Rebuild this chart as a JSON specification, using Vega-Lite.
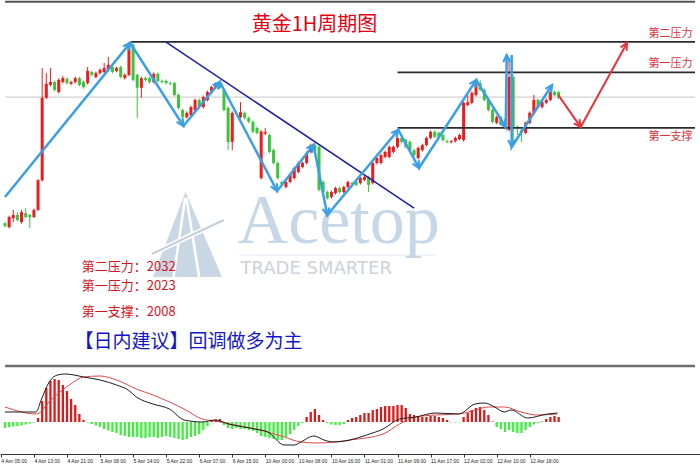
{
"$schema": "https://vega.github.io/schema/vega-lite/v6.json",
"padding": 0,
"background": "white",
"spacing": 0,
"config": {"view": {"stroke": null}, "axis": {"grid": false}},
"datasets": {
"candles": [
{"i":0,"o":1981.4,"h":1981.8,"l":1980.2,"c":1980.6},
{"i":1,"o":1980.3,"h":1983.5,"l":1980.0,"c":1983.1},
{"i":2,"o":1982.8,"h":1985.1,"l":1981.7,"c":1983.7},
{"i":3,"o":1983.7,"h":1984.5,"l":1981.9,"c":1982.3},
{"i":4,"o":1981.7,"h":1985.1,"l":1981.3,"c":1984.5},
{"i":5,"o":1984.2,"h":1985.6,"l":1982.8,"c":1983.1},
{"i":6,"o":1983.7,"h":1984.0,"l":1980.0,"c":1983.1},
{"i":7,"o":1983.1,"h":1985.5,"l":1982.8,"c":1985.1},
{"i":8,"o":1985.1,"h":1993.7,"l":1984.8,"c":1993.4},
{"i":9,"o":1993.4,"h":2024.7,"l":1993.0,"c":2016.4},
{"i":10,"o":2016.4,"h":2023.3,"l":2016.0,"c":2020.3},
{"i":11,"o":2020.0,"h":2024.7,"l":2019.6,"c":2020.8},
{"i":12,"o":2020.8,"h":2021.2,"l":2018.2,"c":2018.6},
{"i":13,"o":2018.0,"h":2021.8,"l":2017.6,"c":2021.4},
{"i":14,"o":2020.8,"h":2022.5,"l":2020.4,"c":2021.9},
{"i":15,"o":2021.7,"h":2022.1,"l":2020.1,"c":2020.5},
{"i":16,"o":2020.3,"h":2021.2,"l":2019.9,"c":2020.8},
{"i":17,"o":2020.8,"h":2022.3,"l":2020.4,"c":2021.9},
{"i":18,"o":2021.9,"h":2022.3,"l":2019.6,"c":2020.0},
{"i":19,"o":2020.8,"h":2021.2,"l":2019.0,"c":2019.4},
{"i":20,"o":2020.5,"h":2025.0,"l":2020.1,"c":2023.9},
{"i":21,"o":2023.6,"h":2024.0,"l":2022.4,"c":2022.8},
{"i":22,"o":2022.2,"h":2023.7,"l":2021.8,"c":2023.3},
{"i":23,"o":2023.3,"h":2024.6,"l":2022.9,"c":2024.2},
{"i":24,"o":2023.6,"h":2026.1,"l":2023.2,"c":2024.7},
{"i":25,"o":2024.2,"h":2027.8,"l":2023.8,"c":2025.6},
{"i":26,"o":2025.0,"h":2025.4,"l":2023.2,"c":2023.6},
{"i":27,"o":2023.9,"h":2025.1,"l":2023.5,"c":2024.7},
{"i":28,"o":2025.0,"h":2025.4,"l":2021.8,"c":2022.2},
{"i":29,"o":2021.9,"h":2023.2,"l":2021.5,"c":2022.8},
{"i":30,"o":2022.8,"h":2032.0,"l":2022.4,"c":2031.2},
{"i":31,"o":2031.2,"h":2031.6,"l":2021.0,"c":2021.4},
{"i":32,"o":2022.8,"h":2023.2,"l":2010.8,"c":2019.2},
{"i":33,"o":2019.2,"h":2022.3,"l":2016.4,"c":2021.9},
{"i":34,"o":2021.9,"h":2022.3,"l":2021.0,"c":2021.4},
{"i":35,"o":2021.9,"h":2022.3,"l":2020.4,"c":2020.8},
{"i":36,"o":2020.8,"h":2023.5,"l":2020.4,"c":2023.1},
{"i":37,"o":2023.1,"h":2023.5,"l":2020.7,"c":2021.1},
{"i":38,"o":2021.1,"h":2021.5,"l":2020.4,"c":2020.8},
{"i":39,"o":2021.1,"h":2021.5,"l":2020.1,"c":2020.5},
{"i":40,"o":2020.5,"h":2020.9,"l":2019.9,"c":2020.3},
{"i":41,"o":2020.5,"h":2020.9,"l":2016.8,"c":2017.2},
{"i":42,"o":2017.2,"h":2017.6,"l":2013.2,"c":2013.6},
{"i":43,"o":2013.0,"h":2013.4,"l":2010.6,"c":2011.0},
{"i":44,"o":2011.0,"h":2012.6,"l":2010.6,"c":2012.2},
{"i":45,"o":2011.6,"h":2014.2,"l":2011.2,"c":2013.8},
{"i":46,"o":2013.0,"h":2016.2,"l":2012.6,"c":2015.8},
{"i":47,"o":2015.8,"h":2016.2,"l":2013.4,"c":2013.8},
{"i":48,"o":2013.8,"h":2017.0,"l":2013.4,"c":2016.6},
{"i":49,"o":2015.8,"h":2018.4,"l":2015.4,"c":2018.0},
{"i":50,"o":2017.8,"h":2019.8,"l":2017.4,"c":2019.4},
{"i":51,"o":2019.2,"h":2020.7,"l":2018.8,"c":2020.3},
{"i":52,"o":2020.5,"h":2021.0,"l":2018.8,"c":2019.2},
{"i":53,"o":2018.6,"h":2019.0,"l":2012.6,"c":2013.0},
{"i":54,"o":2013.6,"h":2014.0,"l":2001.8,"c":2004.1},
{"i":55,"o":2004.1,"h":2012.6,"l":2001.8,"c":2012.2},
{"i":56,"o":2012.2,"h":2012.6,"l":2011.5,"c":2011.9},
{"i":57,"o":2011.0,"h":2015.2,"l":2010.6,"c":2012.4},
{"i":58,"o":2012.2,"h":2012.6,"l":2010.4,"c":2010.8},
{"i":59,"o":2010.8,"h":2011.2,"l":2009.3,"c":2009.7},
{"i":60,"o":2009.7,"h":2010.1,"l":2006.5,"c":2006.9},
{"i":61,"o":2008.0,"h":2008.4,"l":2006.2,"c":2006.6},
{"i":62,"o":1994.0,"h":2007.4,"l":1993.6,"c":2007.0},
{"i":63,"o":2006.4,"h":2008.0,"l":2006.0,"c":2006.8},
{"i":64,"o":2006.0,"h":2006.4,"l":2000.9,"c":2001.3},
{"i":65,"o":2001.8,"h":2002.2,"l":1997.8,"c":1998.2},
{"i":66,"o":1998.2,"h":1998.6,"l":1993.6,"c":1994.0},
{"i":67,"o":1992.9,"h":1993.3,"l":1991.9,"c":1992.3},
{"i":68,"o":1991.5,"h":1993.3,"l":1991.1,"c":1992.9},
{"i":69,"o":1992.9,"h":1995.3,"l":1992.5,"c":1994.9},
{"i":70,"o":1994.0,"h":1997.2,"l":1993.6,"c":1996.8},
{"i":71,"o":1995.7,"h":1998.6,"l":1995.3,"c":1998.2},
{"i":72,"o":1997.1,"h":1998.6,"l":1996.7,"c":1998.2},
{"i":73,"o":1998.2,"h":2001.4,"l":1997.8,"c":2001.0},
{"i":74,"o":2001.3,"h":2003.6,"l":2000.9,"c":2003.2},
{"i":75,"o":2003.2,"h":2003.6,"l":2001.4,"c":2001.8},
{"i":76,"o":2002.7,"h":2003.1,"l":1990.3,"c":1990.7},
{"i":77,"o":1992.9,"h":1993.3,"l":1989.7,"c":1990.1},
{"i":78,"o":1990.1,"h":1990.5,"l":1988.0,"c":1988.4},
{"i":79,"o":1988.7,"h":1990.5,"l":1988.3,"c":1990.1},
{"i":80,"o":1989.8,"h":1991.6,"l":1989.4,"c":1991.2},
{"i":81,"o":1991.2,"h":1991.6,"l":1989.7,"c":1990.1},
{"i":82,"o":1990.1,"h":1991.9,"l":1989.7,"c":1991.5},
{"i":83,"o":1991.5,"h":1993.3,"l":1991.1,"c":1992.9},
{"i":84,"o":1992.6,"h":1993.0,"l":1991.9,"c":1992.3},
{"i":85,"o":1992.9,"h":1993.3,"l":1991.7,"c":1992.1},
{"i":86,"o":1992.6,"h":1994.4,"l":1992.2,"c":1994.0},
{"i":87,"o":1993.5,"h":1994.7,"l":1993.1,"c":1994.3},
{"i":88,"o":1994.3,"h":1994.7,"l":1990.1,"c":1992.1},
{"i":89,"o":1992.6,"h":1998.6,"l":1992.2,"c":1998.2},
{"i":90,"o":1998.2,"h":2000.0,"l":1997.8,"c":1999.6},
{"i":91,"o":1998.2,"h":2000.8,"l":1997.8,"c":2000.4},
{"i":92,"o":1999.9,"h":2001.7,"l":1999.5,"c":2001.3},
{"i":93,"o":1999.9,"h":2003.1,"l":1999.5,"c":2002.7},
{"i":94,"o":2001.3,"h":2003.1,"l":2000.9,"c":2002.7},
{"i":95,"o":2002.7,"h":2005.6,"l":2002.3,"c":2005.2},
{"i":96,"o":2005.2,"h":2005.6,"l":2003.7,"c":2004.1},
{"i":97,"o":2004.6,"h":2005.0,"l":2002.3,"c":2002.7},
{"i":98,"o":2004.1,"h":2004.5,"l":2001.4,"c":2001.8},
{"i":99,"o":2001.8,"h":2002.2,"l":2000.0,"c":2000.4},
{"i":100,"o":1999.6,"h":2002.8,"l":1999.2,"c":2002.4},
{"i":101,"o":2001.8,"h":2003.6,"l":2001.4,"c":2003.2},
{"i":102,"o":2003.2,"h":2005.6,"l":2002.8,"c":2005.2},
{"i":103,"o":2005.2,"h":2007.3,"l":2004.8,"c":2006.9},
{"i":104,"o":2006.9,"h":2007.3,"l":2005.1,"c":2005.5},
{"i":105,"o":2006.6,"h":2007.0,"l":2005.1,"c":2005.5},
{"i":106,"o":2006.0,"h":2006.4,"l":2004.2,"c":2004.6},
{"i":107,"o":2004.3,"h":2004.7,"l":2003.7,"c":2004.0},
{"i":108,"o":2004.0,"h":2004.7,"l":2003.7,"c":2004.3},
{"i":109,"o":2004.3,"h":2005.6,"l":2003.9,"c":2005.2},
{"i":110,"o":2004.9,"h":2006.4,"l":2004.5,"c":2006.0},
{"i":111,"o":2004.6,"h":2015.4,"l":2004.2,"c":2015.0},
{"i":112,"o":2014.4,"h":2017.2,"l":2014.0,"c":2015.2},
{"i":113,"o":2015.0,"h":2018.2,"l":2014.6,"c":2017.8},
{"i":114,"o":2017.2,"h":2020.7,"l":2016.8,"c":2020.3},
{"i":115,"o":2020.5,"h":2021.3,"l":2018.2,"c":2018.6},
{"i":116,"o":2018.6,"h":2019.0,"l":2015.4,"c":2015.8},
{"i":117,"o":2015.8,"h":2016.2,"l":2012.6,"c":2013.0},
{"i":118,"o":2013.0,"h":2013.4,"l":2009.3,"c":2009.7},
{"i":119,"o":2009.4,"h":2011.4,"l":2009.0,"c":2011.0},
{"i":120,"o":2011.0,"h":2011.4,"l":2009.0,"c":2009.4},
{"i":121,"o":2009.4,"h":2009.8,"l":2007.9,"c":2008.3},
{"i":122,"o":2007.4,"h":2027.5,"l":2007.0,"c":2022.2},
{"i":123,"o":2022.2,"h":2022.6,"l":2003.2,"c":2008.3},
{"i":124,"o":2008.3,"h":2008.7,"l":2006.0,"c":2008.0},
{"i":125,"o":2007.4,"h":2007.8,"l":2004.0,"c":2006.6},
{"i":126,"o":2006.6,"h":2009.8,"l":2006.2,"c":2009.4},
{"i":127,"o":2009.4,"h":2012.6,"l":2009.0,"c":2012.2},
{"i":128,"o":2012.2,"h":2017.2,"l":2011.8,"c":2015.8},
{"i":129,"o":2015.8,"h":2016.2,"l":2013.4,"c":2013.8},
{"i":130,"o":2013.8,"h":2015.6,"l":2013.4,"c":2015.2},
{"i":131,"o":2015.0,"h":2016.2,"l":2014.6,"c":2015.8},
{"i":132,"o":2015.8,"h":2018.4,"l":2015.4,"c":2018.0},
{"i":133,"o":2018.0,"h":2018.4,"l":2016.8,"c":2017.2},
{"i":134,"o":2018.0,"h":2018.4,"l":2016.0,"c":2016.4}
],
"hist": [
{"i":0,"v":-0.6},{"i":1,"v":-0.5},{"i":2,"v":-0.45},{"i":3,"v":-0.4},{"i":4,"v":-0.35},{"i":5,"v":-0.25},{"i":6,"v":-0.15},{"i":7,"v":-0.05},
{"i":8,"v":0.4},{"i":9,"v":2.1},{"i":10,"v":3.4},{"i":11,"v":4.1},{"i":12,"v":4.3},{"i":13,"v":4.2},{"i":14,"v":3.7},{"i":15,"v":3.1},{"i":16,"v":2.3},{"i":17,"v":1.7},{"i":18,"v":0.8},{"i":19,"v":0.2},
{"i":20,"v":-0.05},{"i":21,"v":-0.2},{"i":22,"v":-0.35},{"i":23,"v":-0.5},{"i":24,"v":-0.7},{"i":25,"v":-0.85},{"i":26,"v":-1.0},{"i":27,"v":-1.1},{"i":28,"v":-1.3},{"i":29,"v":-1.4},
{"i":30,"v":-1.5},{"i":31,"v":-1.5},{"i":32,"v":-1.5},{"i":33,"v":-1.6},{"i":34,"v":-1.6},{"i":35,"v":-1.5},{"i":36,"v":-1.5},{"i":37,"v":-1.6},{"i":38,"v":-1.5},{"i":39,"v":-1.4},
{"i":40,"v":-1.5},{"i":41,"v":-1.6},{"i":42,"v":-1.7},{"i":43,"v":-1.8},{"i":44,"v":-1.7},{"i":45,"v":-1.5},{"i":46,"v":-1.4},{"i":47,"v":-1.2},{"i":48,"v":-0.8},{"i":49,"v":-0.4},
{"i":50,"v":0.1},{"i":51,"v":0.25},{"i":52,"v":0.3},{"i":53,"v":-0.3},{"i":54,"v":-0.6},{"i":55,"v":-0.7},{"i":56,"v":-0.6},{"i":57,"v":-0.7},{"i":58,"v":-0.7},{"i":59,"v":-0.8},
{"i":60,"v":-0.9},{"i":61,"v":-1.1},{"i":62,"v":-1.4},{"i":63,"v":-1.5},{"i":64,"v":-1.6},{"i":65,"v":-1.7},{"i":66,"v":-1.8},{"i":67,"v":-1.8},{"i":68,"v":-1.5},{"i":69,"v":-1.2},
{"i":70,"v":-0.8},{"i":71,"v":-0.4},{"i":72,"v":-0.1},{"i":73,"v":0.5},{"i":74,"v":1.0},{"i":75,"v":1.3},{"i":76,"v":0.7},{"i":77,"v":0.2},{"i":78,"v":-0.1},{"i":79,"v":-0.25},
{"i":80,"v":-0.3},{"i":81,"v":-0.3},{"i":82,"v":-0.2},{"i":83,"v":0.2},{"i":84,"v":0.4},{"i":85,"v":0.5},{"i":86,"v":0.7},{"i":87,"v":0.9},{"i":88,"v":0.9},{"i":89,"v":1.2},
{"i":90,"v":1.3},{"i":91,"v":1.5},{"i":92,"v":1.6},{"i":93,"v":1.6},{"i":94,"v":1.6},{"i":95,"v":1.7},{"i":96,"v":1.7},{"i":97,"v":1.4},{"i":98,"v":0.8},{"i":99,"v":0.7},
{"i":100,"v":0.6},{"i":101,"v":0.5},{"i":102,"v":0.5},{"i":103,"v":0.6},{"i":104,"v":0.6},{"i":105,"v":0.5},{"i":106,"v":0.4},{"i":107,"v":0.2},{"i":108,"v":-0.05},{"i":109,"v":-0.05},
{"i":110,"v":-0.05},{"i":111,"v":0.5},{"i":112,"v":0.9},{"i":113,"v":1.2},{"i":114,"v":1.4},{"i":115,"v":1.5},{"i":116,"v":1.2},{"i":117,"v":0.7},{"i":118,"v":0.05},{"i":119,"v":-0.5},
{"i":120,"v":-0.7},{"i":121,"v":-1.0},{"i":122,"v":-0.8},{"i":123,"v":-1.0},{"i":124,"v":-1.1},{"i":125,"v":-1.1},{"i":126,"v":-0.8},{"i":127,"v":-0.5},{"i":128,"v":-0.25},{"i":129,"v":-0.1},
{"i":130,"v":0.05},{"i":131,"v":0.3},{"i":132,"v":0.5},{"i":133,"v":0.6},{"i":134,"v":0.5}
],
"macd": [
{"i":0,"v":1.0},{"i":7.5,"v":1.0},{"i":8.75,"v":2.2},{"i":10.7,"v":4.0},{"i":12.7,"v":4.7},{"i":14.7,"v":4.8},{"i":16.7,"v":4.7},{"i":19,"v":4.5},{"i":23,"v":4.2},{"i":27,"v":3.7},{"i":29.8,"v":3.2},{"i":31.8,"v":2.5},{"i":35.8,"v":1.8},{"i":39.8,"v":1.3},{"i":43.4,"v":0.2},{"i":47.7,"v":0.0},{"i":50.9,"v":0.2},{"i":54.1,"v":-0.2},{"i":60.5,"v":-0.7},{"i":63.6,"v":-1.0},{"i":67.6,"v":-2.3},{"i":70,"v":-2.3},{"i":71.6,"v":-2.0},{"i":74.8,"v":-1.4},{"i":77.2,"v":-1.8},{"i":79.6,"v":-2.0},{"i":83.5,"v":-1.8},{"i":87.5,"v":-1.3},{"i":91.5,"v":-0.7},{"i":95.5,"v":0.3},{"i":99.4,"v":0.5},{"i":104.2,"v":0.9},{"i":109.8,"v":0.8},{"i":113.8,"v":1.8},{"i":116.1,"v":1.9},{"i":118.5,"v":1.5},{"i":120.9,"v":1.0},{"i":122.5,"v":1.2},{"i":126.5,"v":0.4},{"i":131.3,"v":0.8},{"i":133.7,"v":0.9}
],
"signal": [
{"i":0,"v":1.5},{"i":7.6,"v":0.8},{"i":11.1,"v":2.2},{"i":15.9,"v":3.8},{"i":19,"v":4.5},{"i":23,"v":4.6},{"i":27,"v":4.2},{"i":31.8,"v":3.3},{"i":35.8,"v":2.7},{"i":39.8,"v":2.0},{"i":43.8,"v":1.2},{"i":47.7,"v":0.3},{"i":50.9,"v":0.1},{"i":55.7,"v":-0.3},{"i":63.6,"v":-1.0},{"i":67.6,"v":-1.5},{"i":71.6,"v":-2.0},{"i":75.6,"v":-2.1},{"i":79.6,"v":-2.0},{"i":83.5,"v":-1.8},{"i":91.5,"v":-1.2},{"i":95.5,"v":-0.2},{"i":99.4,"v":0.5},{"i":104.2,"v":0.7},{"i":109.8,"v":0.8},{"i":113.8,"v":1.2},{"i":117,"v":1.5},{"i":120.9,"v":1.5},{"i":124.9,"v":1.0},{"i":128.8,"v":0.7},{"i":133.7,"v":0.8}
],
"zigzag": [
{"g":1,"k":0,"i":0,"p":1988.71},{"g":1,"k":1,"i":30.3,"p":2031.7},{"g":1,"k":2,"i":43.18,"p":2008.53},{"g":1,"k":3,"i":52.01,"p":2020.81},{"g":1,"k":4,"i":65.85,"p":1990.39},{"g":1,"k":5,"i":74.67,"p":2003.23},{"g":1,"k":6,"i":78.01,"p":1983.69},{"g":1,"k":7,"i":95.19,"p":2007.41},{"g":1,"k":8,"i":100.2,"p":1996.81},{"g":1,"k":9,"i":114.04,"p":2021.37},{"g":1,"k":10,"i":121.19,"p":2008.25},{"g":1,"k":11,"i":121.43,"p":2028.35},
{"g":2,"k":12,"i":122.63,"p":2028.35},{"g":2,"k":13,"i":122.63,"p":2002.67},{"g":2,"k":14,"i":132.41,"p":2019.97}
],
"bluearrows": [
{"a":1,"k":0,"i":29.88,"p":2029.57},{"a":1,"k":1,"i":30.3,"p":2031.7},{"a":1,"k":2,"i":28.59,"p":2030.81},
{"a":2,"k":0,"i":41.57,"p":2009.64},{"a":2,"k":1,"i":43.18,"p":2008.53},{"a":2,"k":2,"i":42.97,"p":2010.7},
{"a":3,"k":0,"i":51.57,"p":2018.69},{"a":3,"k":1,"i":52.01,"p":2020.81},{"a":3,"k":2,"i":50.3,"p":2019.94},
{"a":4,"k":0,"i":64.32,"p":1991.65},{"a":4,"k":1,"i":65.85,"p":1990.39},{"a":4,"k":2,"i":65.8,"p":1992.57},
{"a":5,"k":0,"i":74.28,"p":2001.09},{"a":5,"k":1,"i":74.67,"p":2003.23},{"a":5,"k":2,"i":72.97,"p":2002.32},
{"a":6,"k":0,"i":76.87,"p":1985.41},{"a":6,"k":1,"i":78.01,"p":1983.69},{"a":6,"k":2,"i":78.51,"p":1985.8},
{"a":7,"k":0,"i":94.75,"p":2005.29},{"a":7,"k":1,"i":95.19,"p":2007.41},{"a":7,"k":2,"i":93.48,"p":2006.55},
{"a":8,"k":0,"i":98.66,"p":1998.05},{"a":8,"k":1,"i":100.2,"p":1996.81},{"a":8,"k":2,"i":100.12,"p":1998.99},
{"a":9,"k":0,"i":113.81,"p":2019.2},{"a":9,"k":1,"i":114.04,"p":2021.37},{"a":9,"k":2,"i":112.42,"p":2020.28},
{"a":10,"k":0,"i":119.59,"p":2009.37},{"a":10,"k":1,"i":121.19,"p":2008.25},{"a":10,"k":2,"i":121.0,"p":2010.42},
{"a":11,"k":0,"i":122.27,"p":2026.39},{"a":11,"k":1,"i":121.43,"p":2028.35},{"a":11,"k":2,"i":120.6,"p":2026.39},
{"a":12,"k":0,"i":121.79,"p":2004.62},{"a":12,"k":1,"i":122.63,"p":2002.67},{"a":12,"k":2,"i":123.46,"p":2004.62},
{"a":13,"k":0,"i":132.18,"p":2017.81},{"a":13,"k":1,"i":132.41,"p":2019.97},{"a":13,"k":2,"i":130.79,"p":2018.88}
],
"redarrows": [
{"a":1,"k":0,"i":137.67,"p":2009.27},{"a":1,"k":1,"i":139.33,"p":2008.25},{"a":1,"k":2,"i":139.03,"p":2010.41},
{"a":2,"k":0,"i":150.45,"p":2029.52},{"a":2,"k":1,"i":150.54,"p":2031.7},{"a":2,"k":2,"i":149.0,"p":2030.47}
]
},
"vconcat": [
{
"width": 700, "height": 364,
"layer": [
{"data": {"values": [{"i":0,"i2":167,"p":2016.6}]}, "mark": {"type":"rule","color":"#c6c6c6","strokeWidth":1},
 "encoding": {"x":{"field":"i","type":"quantitative","scale":{"domain":[0,167],"nice":false,"zero":false},"axis":null},"x2":{"field":"i2"},"y":{"field":"p","type":"quantitative","scale":{"domain":[1942.1,2043.7],"nice":false,"zero":false},"axis":null}}},
{"data": {"values": [{"i":35.8,"p":1966.4},{"i":43.7,"p":1990.1},{"i":52.5,"p":1966.4}]}, "mark": {"type":"area","color":"#c9d6e3"},
 "encoding": {"x":{"field":"i","type":"quantitative","scale":{"domain":[0,167],"nice":false,"zero":false},"axis":null},"y":{"field":"p","type":"quantitative","scale":{"domain":[1942.1,2043.7],"nice":false,"zero":false},"axis":null},"y2":{"datum":1966.4}}},
{"data": {"values": [{"g":1,"i":43.6,"p":1988.5},{"g":1,"i":40.8,"p":1966.4},{"g":2,"i":43.9,"p":1988.5},{"g":2,"i":47.0,"p":1966.4}]}, "mark": {"type":"line","color":"white","strokeWidth":2.5},
 "encoding": {"x":{"field":"i","type":"quantitative","scale":{"domain":[0,167],"nice":false,"zero":false},"axis":null},"y":{"field":"p","type":"quantitative","scale":{"domain":[1942.1,2043.7],"nice":false,"zero":false},"axis":null},"detail":{"field":"g"}}},
{"data": {"values": [{"i":35.5,"p":1972.8},{"i":45.0,"p":1978.0},{"i":53.0,"p":1982.3}]}, "mark": {"type":"line","color":"white","strokeWidth":5,"interpolate":"monotone"},
 "encoding": {"x":{"field":"i","type":"quantitative","scale":{"domain":[0,167],"nice":false,"zero":false},"axis":null},"y":{"field":"p","type":"quantitative","scale":{"domain":[1942.1,2043.7],"nice":false,"zero":false},"axis":null}}},
{"data": {"values": [{"i":35.5,"p":1972.8},{"i":45.0,"p":1978.0},{"i":53.0,"p":1982.3}]}, "mark": {"type":"line","color":"#bfcddb","strokeWidth":2,"interpolate":"monotone"},
 "encoding": {"x":{"field":"i","type":"quantitative","scale":{"domain":[0,167],"nice":false,"zero":false},"axis":null},"y":{"field":"p","type":"quantitative","scale":{"domain":[1942.1,2043.7],"nice":false,"zero":false},"axis":null}}},
{"data": {"values": [{"i":56.6,"i2":104.3,"p":1972.5}]}, "mark": {"type":"rule","color":"#e4e9ef","strokeWidth":1},
 "encoding": {"x":{"field":"i","type":"quantitative","scale":{"domain":[0,167],"nice":false,"zero":false},"axis":null},"x2":{"field":"i2"},"y":{"field":"p","type":"quantitative","scale":{"domain":[1942.1,2043.7],"nice":false,"zero":false},"axis":null}}},
{"data": {"values": [{"i":56.3,"p":1975.85,"t":"Acetop"}]}, "mark": {"type":"text","font":"Liberation Serif","fontSize":70,"color":"#c6d7e8","align":"left","baseline":"alphabetic"},
 "encoding": {"x":{"field":"i","type":"quantitative","scale":{"domain":[0,167],"nice":false,"zero":false},"axis":null},"y":{"field":"p","type":"quantitative","scale":{"domain":[1942.1,2043.7],"nice":false,"zero":false},"axis":null},"text":{"field":"t"}}},
{"data": {"values": [{"i":57.0,"p":1968.6,"t":"TRADE SMARTER"}]}, "mark": {"type":"text","font":"DejaVu Sans","fontSize":18,"color":"#cbd2d9","align":"left","baseline":"middle"},
 "encoding": {"x":{"field":"i","type":"quantitative","scale":{"domain":[0,167],"nice":false,"zero":false},"axis":null},"y":{"field":"p","type":"quantitative","scale":{"domain":[1942.1,2043.7],"nice":false,"zero":false},"axis":null},"text":{"field":"t"}}},
{"data": {"name": "candles"}, "mark": {"type":"rule","strokeWidth":1},
 "encoding": {"x":{"field":"i","type":"quantitative","scale":{"domain":[0,167],"nice":false,"zero":false},"axis":null},"y":{"field":"l","type":"quantitative","scale":{"domain":[1942.1,2043.7],"nice":false,"zero":false},"axis":null},"y2":{"field":"h"},
 "color":{"condition":{"test":"datum.c >= datum.o","value":"#ee1c1c"},"value":"#3cc43c"}}},
{"data": {"name": "candles"}, "mark": {"type":"bar","size":3},
 "encoding": {"x":{"field":"i","type":"quantitative","scale":{"domain":[0,167],"nice":false,"zero":false},"axis":null},"y":{"field":"o","type":"quantitative","scale":{"domain":[1942.1,2043.7],"nice":false,"zero":false},"axis":null},"y2":{"field":"c"},
 "color":{"condition":{"test":"datum.c >= datum.o","value":"#ee1c1c"},"value":"#3cc43c"}}},
{"data": {"values": [{"i":30.3,"i2":167,"p":2032},{"i":95,"i2":167,"p":2023.5},{"i":95,"i2":167,"p":2008}]}, "mark": {"type":"rule","color":"#2b2b2b","strokeWidth":1.6},
 "encoding": {"x":{"field":"i","type":"quantitative","scale":{"domain":[0,167],"nice":false,"zero":false},"axis":null},"x2":{"field":"i2"},"y":{"field":"p","type":"quantitative","scale":{"domain":[1942.1,2043.7],"nice":false,"zero":false},"axis":null}}},
{"data": {"values": [{"i":38.9,"p":2032.0},{"i":99.0,"p":1985.6}]}, "mark": {"type":"line","color":"#1e1ea6","strokeWidth":1.5},
 "encoding": {"x":{"field":"i","type":"quantitative","scale":{"domain":[0,167],"nice":false,"zero":false},"axis":null},"y":{"field":"p","type":"quantitative","scale":{"domain":[1942.1,2043.7],"nice":false,"zero":false},"axis":null}}},
{"data": {"name": "zigzag"}, "mark": {"type":"line","color":"#3aa0e6","strokeWidth":2.5},
 "encoding": {"x":{"field":"i","type":"quantitative","scale":{"domain":[0,167],"nice":false,"zero":false},"axis":null},"y":{"field":"p","type":"quantitative","scale":{"domain":[1942.1,2043.7],"nice":false,"zero":false},"axis":null},"detail":{"field":"g"},"order":{"field":"k"}}},
{"data": {"name": "bluearrows"}, "mark": {"type":"line","color":"#3aa0e6","strokeWidth":2.2,"strokeJoin":"miter"},
 "encoding": {"x":{"field":"i","type":"quantitative","scale":{"domain":[0,167],"nice":false,"zero":false},"axis":null},"y":{"field":"p","type":"quantitative","scale":{"domain":[1942.1,2043.7],"nice":false,"zero":false},"axis":null},"detail":{"field":"a"},"order":{"field":"k"}}},
{"data": {"values": [{"i":133.9,"p":2017.2},{"i":139.33,"p":2008.25},{"i":150.54,"p":2031.7}]}, "mark": {"type":"line","color":"#e8343a","strokeWidth":2},
 "encoding": {"x":{"field":"i","type":"quantitative","scale":{"domain":[0,167],"nice":false,"zero":false},"axis":null},"y":{"field":"p","type":"quantitative","scale":{"domain":[1942.1,2043.7],"nice":false,"zero":false},"axis":null}}},
{"data": {"name": "redarrows"}, "mark": {"type":"line","color":"#e8343a","strokeWidth":2,"strokeJoin":"miter"},
 "encoding": {"x":{"field":"i","type":"quantitative","scale":{"domain":[0,167],"nice":false,"zero":false},"axis":null},"y":{"field":"p","type":"quantitative","scale":{"domain":[1942.1,2043.7],"nice":false,"zero":false},"axis":null},"detail":{"field":"a"},"order":{"field":"k"}}},
{"data": {"values": [{"i":74.9,"p":2036.75,"t":"黄金1H周期图"}]}, "mark": {"type":"text","font":"Noto Sans CJK SC","fontSize":20,"color":"#e60012","align":"center","baseline":"middle"},
 "encoding": {"x":{"field":"i","type":"quantitative","scale":{"domain":[0,167],"nice":false,"zero":false},"axis":null},"y":{"field":"p","type":"quantitative","scale":{"domain":[1942.1,2043.7],"nice":false,"zero":false},"axis":null},"text":{"field":"t"}}},
{"data": {"values": [{"i":161.1,"p":2034.2,"t":"第二压力"},{"i":161.1,"p":2025.85,"t":"第一压力"},{"i":161.1,"p":2005.45,"t":"第一支撑"}]}, "mark": {"type":"text","font":"Noto Sans CJK SC","fontSize":11,"color":"#e0303a","align":"center","baseline":"middle"},
 "encoding": {"x":{"field":"i","type":"quantitative","scale":{"domain":[0,167],"nice":false,"zero":false},"axis":null},"y":{"field":"p","type":"quantitative","scale":{"domain":[1942.1,2043.7],"nice":false,"zero":false},"axis":null},"text":{"field":"t"}}},
{"data": {"values": [{"i":18.6,"p":1969.15,"t":"第二压力：2032"},{"i":18.6,"p":1963.84,"t":"第一压力：2023"},{"i":18.6,"p":1956.58,"t":"第一支撑：2008"}]}, "mark": {"type":"text","font":"Noto Sans CJK SC","fontSize":13,"color":"#d8141e","align":"left","baseline":"middle"},
 "encoding": {"x":{"field":"i","type":"quantitative","scale":{"domain":[0,167],"nice":false,"zero":false},"axis":null},"y":{"field":"p","type":"quantitative","scale":{"domain":[1942.1,2043.7],"nice":false,"zero":false},"axis":null},"text":{"field":"t"}}},
{"data": {"values": [{"i":16.8,"p":1948.2,"t":"【日内建议】回调做多为主"}]}, "mark": {"type":"text","font":"Noto Sans CJK SC","fontSize":19,"color":"#1414c8","align":"left","baseline":"middle"},
 "encoding": {"x":{"field":"i","type":"quantitative","scale":{"domain":[0,167],"nice":false,"zero":false},"axis":null},"y":{"field":"p","type":"quantitative","scale":{"domain":[1942.1,2043.7],"nice":false,"zero":false},"axis":null},"text":{"field":"t"}}},
{"data": {"values": [{"i":0,"i2":167,"p":2043.2}]}, "mark": {"type":"rule","color":"#555555","strokeWidth":2},
 "encoding": {"x":{"field":"i","type":"quantitative","scale":{"domain":[0,167],"nice":false,"zero":false},"axis":null},"x2":{"field":"i2"},"y":{"field":"p","type":"quantitative","scale":{"domain":[1942.1,2043.7],"nice":false,"zero":false},"axis":null}}}
]
},
{
"width": 700, "height": 90,
"encoding": {
 "x": {"field":"i","type":"quantitative","scale":{"domain":[0,167],"nice":false,"zero":false},
   "axis":{"title":null,"values":[-1,7,15,23,31,39,47,55,63,71,79,87,95,103,111,119,127],
   "labelExpr":"['4 Apr 05:00','4 Apr 13:00','4 Apr 21:00','5 Apr 06:00','5 Apr 14:00','5 Apr 22:00','6 Apr 07:00','6 Apr 15:00','10 Apr 00:00','10 Apr 08:00','10 Apr 16:00','11 Apr 01:00','11 Apr 09:00','11 Apr 17:00','12 Apr 02:00','12 Apr 10:00','12 Apr 18:00'][(datum.value+1)/8]",
   "labelFontSize":5,"labelFont":"Liberation Sans","labelColor":"#222222","labelAlign":"left","labelBaseline":"top","labelPadding":1,"labelOverlap":false,"labelBound":false,"labelFlush":false,
   "tickSize":3,"tickColor":"#333333","domainColor":"#333333","domainWidth":1,"grid":false}},
 "y": {"field":"v","type":"quantitative","scale":{"domain":[-3.2,5.8],"nice":false,"zero":false},"axis":null}
},
"layer": [
{"data": {"name":"hist"}, "mark": {"type":"bar","size":2.3},
 "encoding": {"y2":{"datum":0},"color":{"condition":{"test":"datum.v >= 0","value":"#dc1a1a"},"value":"#3cf03c"}}},
{"data": {"name":"signal"}, "mark": {"type":"line","color":"#e04848","strokeWidth":1,"interpolate":"monotone"}, "encoding": {}},
{"data": {"name":"macd"}, "mark": {"type":"line","color":"#1a1a1a","strokeWidth":1,"interpolate":"monotone"}, "encoding": {}},
{"data": {"values":[{"i":0,"i2":167,"v":5.6}]}, "mark": {"type":"rule","color":"#6e6e6e","strokeWidth":2.5}, "encoding": {"x2":{"field":"i2"}}}
]
}
]
}
